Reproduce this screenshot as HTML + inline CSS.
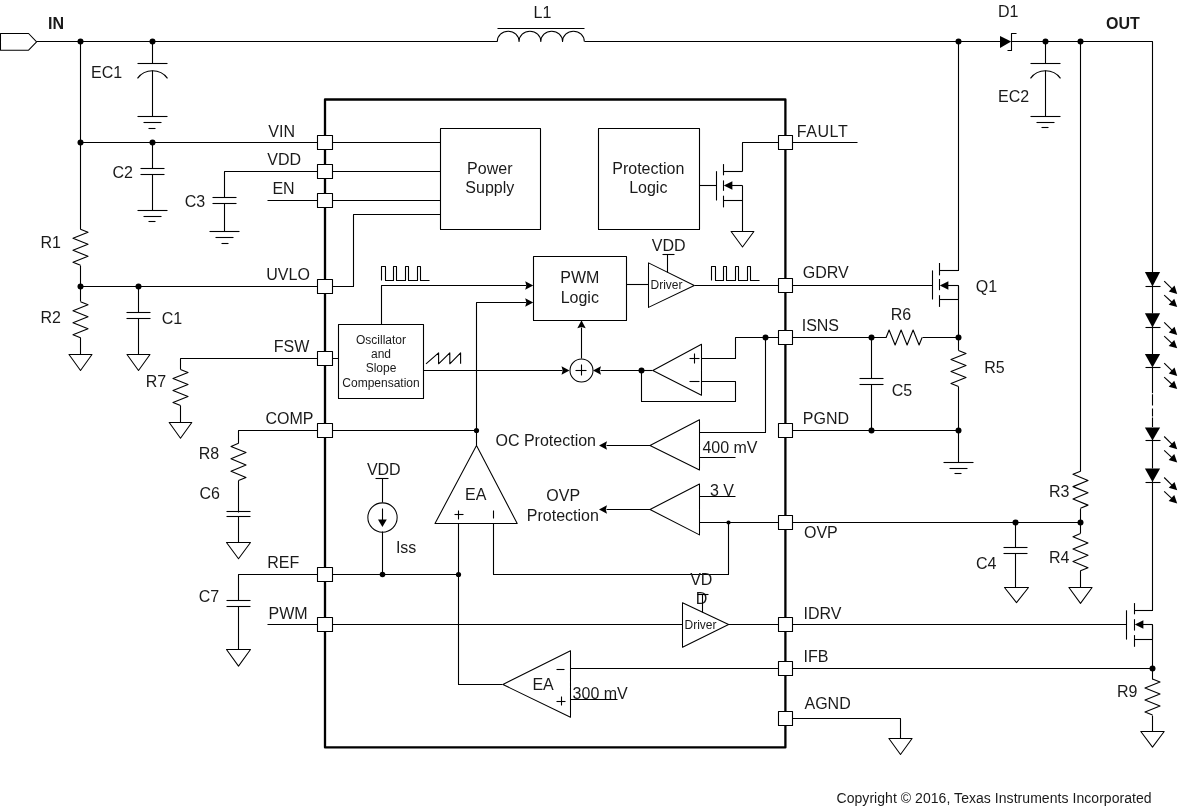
<!DOCTYPE html>
<html><head><meta charset="utf-8"><style>
html,body{margin:0;padding:0;background:#fff;}
svg{display:block;will-change:transform;}
text{font-family:"Liberation Sans",sans-serif;fill:#1a1a1a;stroke:none;}
</style></head><body>
<svg width="1179" height="808" viewBox="0 0 1179 808">
<g fill="none" stroke="#000" stroke-width="1.1" stroke-linejoin="round">
<polygon points="0.5,33.5 28.6,33.5 36.6,41.8 28.6,50.2 0.5,50.2" fill="none" stroke-width="1.05"/>
<text x="48" y="28.6" font-size="16" font-weight="bold">IN</text>
<path d="M36.50,41.50 L497.50,41.50"/>
<path d="M497.3,41.5 a10.875,10.3 0 0 1 21.75,0 a10.875,10.3 0 0 1 21.75,0 a10.875,10.3 0 0 1 21.75,0 a10.875,10.3 0 0 1 21.75,0"/>
<path d="M497.50,28.50 L584.50,28.50"/>
<text x="533.5" y="18.1" font-size="16">L1</text>
<path d="M584.50,41.50 L1000.50,41.50"/>
<polygon points="1000.00,36.10 1000.00,47.90 1011.20,41.50" fill="#000" stroke="none"/>
<path d="M1016.50,33.50 L1011.50,33.50 L1011.50,50.50 L1007.50,50.50"/>
<path d="M1011.50,41.50 L1152.50,41.50 L1152.50,272.50"/>
<text x="998" y="17" font-size="16">D1</text>
<circle cx="958.5" cy="41.5" r="3.0" fill="#000" stroke="none"/>
<circle cx="1045.5" cy="41.5" r="3.0" fill="#000" stroke="none"/>
<circle cx="1080.5" cy="41.5" r="3.0" fill="#000" stroke="none"/>
<path d="M1045.50,41.50 L1045.50,63.50"/>
<path d="M1030.50,63.50 L1060.50,63.50"/>
<path d="M1030.5,78.3 A18.75,18.75 0 0 1 1060.5,78.3"/>
<path d="M1045.50,70.50 L1045.50,116.50"/>
<path d="M1030.50,116.50 L1060.50,116.50"/>
<path d="M1036.50,122.50 L1054.50,122.50"/>
<path d="M1041.50,127.50 L1048.50,127.50"/>
<text x="998" y="102.3" font-size="16">EC2</text>
<text x="1106" y="28.5" font-size="16" font-weight="bold">OUT</text>
<circle cx="80.5" cy="41.5" r="3.0" fill="#000" stroke="none"/>
<circle cx="152.5" cy="41.5" r="3.0" fill="#000" stroke="none"/>
<path d="M80.50,41.50 L80.50,229.50"/>
<path d="M80.50,229.30 L88.00,232.30 L73.00,238.30 L88.00,244.30 L73.00,250.30 L88.00,256.30 L73.00,262.30 L80.50,265.30"/>
<path d="M80.50,265.50 L80.50,301.50"/>
<path d="M80.50,301.80 L88.00,304.80 L73.00,310.80 L88.00,316.80 L73.00,322.80 L88.00,328.80 L73.00,334.80 L80.50,337.80"/>
<path d="M80.50,337.50 L80.50,354.50"/>
<polygon points="69.00,354.50 92.00,354.50 80.50,370.50" fill="none" stroke-width="1.05"/>
<text x="91" y="78" font-size="16">EC1</text>
<path d="M152.50,41.50 L152.50,63.50"/>
<path d="M137.50,63.50 L167.50,63.50"/>
<path d="M137.5,78.3 A18.75,18.75 0 0 1 167.5,78.3"/>
<path d="M152.50,70.50 L152.50,116.50"/>
<path d="M137.50,116.50 L167.50,116.50"/>
<path d="M143.50,122.50 L161.50,122.50"/>
<path d="M148.50,128.50 L155.50,128.50"/>
<circle cx="80.5" cy="142.5" r="3.0" fill="#000" stroke="none"/>
<circle cx="152.5" cy="142.5" r="3.0" fill="#000" stroke="none"/>
<path d="M80.50,142.50 L440.50,142.50"/>
<path d="M152.50,142.50 L152.50,168.50"/>
<path d="M140.50,168.50 L164.50,168.50"/>
<path d="M140.50,174.50 L164.50,174.50"/>
<path d="M152.50,174.50 L152.50,210.50"/>
<path d="M137.50,210.50 L167.50,210.50"/>
<path d="M143.50,216.50 L161.50,216.50"/>
<path d="M148.50,221.50 L155.50,221.50"/>
<text x="112.5" y="178.4" font-size="16">C2</text>
<path d="M224.50,197.50 L224.50,171.50 L440.50,171.50"/>
<path d="M212.50,197.50 L236.50,197.50"/>
<path d="M212.50,203.50 L236.50,203.50"/>
<path d="M224.50,203.50 L224.50,231.50"/>
<path d="M209.50,231.50 L239.50,231.50"/>
<path d="M215.50,237.50 L233.50,237.50"/>
<path d="M221.50,243.50 L228.50,243.50"/>
<text x="184.8" y="206.9" font-size="16">C3</text>
<path d="M267.50,200.50 L440.50,200.50"/>
<circle cx="80.5" cy="286.5" r="3.0" fill="#000" stroke="none"/>
<circle cx="138.5" cy="286.5" r="3.0" fill="#000" stroke="none"/>
<path d="M80.50,286.50 L353.50,286.50 L353.50,214.50 L440.50,214.50"/>
<path d="M138.50,286.50 L138.50,312.50"/>
<path d="M126.50,312.50 L150.50,312.50"/>
<path d="M126.50,318.50 L150.50,318.50"/>
<path d="M138.50,318.50 L138.50,354.50"/>
<polygon points="127.00,354.50 150.00,354.50 138.50,370.50" fill="none" stroke-width="1.05"/>
<text x="40.5" y="248" font-size="16">R1</text>
<text x="40.5" y="322.7" font-size="16">R2</text>
<text x="161.8" y="324" font-size="16">C1</text>
<path d="M180.50,369.50 L180.50,358.50 L338.50,358.50"/>
<path d="M180.50,369.50 L188.00,372.50 L173.00,378.50 L188.00,384.50 L173.00,390.50 L188.00,396.50 L173.00,402.50 L180.50,405.50"/>
<path d="M180.50,405.50 L180.50,422.50"/>
<polygon points="169.20,422.50 191.80,422.50 180.50,438.20" fill="none" stroke-width="1.05"/>
<text x="145.8" y="387" font-size="16">R7</text>
<path d="M238.50,443.50 L238.50,430.50 L476.50,430.50"/>
<path d="M238.50,443.30 L231.00,446.40 L246.00,452.60 L231.00,458.80 L246.00,465.00 L231.00,471.20 L246.00,477.40 L238.50,480.50"/>
<path d="M238.50,480.50 L238.50,512.50"/>
<path d="M226.50,511.50 L250.50,511.50"/>
<path d="M226.50,516.50 L250.50,516.50"/>
<path d="M238.50,516.50 L238.50,542.50"/>
<polygon points="226.50,542.50 250.50,542.50 238.50,558.80" fill="none" stroke-width="1.05"/>
<text x="198.7" y="459" font-size="16">R8</text>
<text x="199.5" y="498.5" font-size="16">C6</text>
<path d="M238.50,600.50 L238.50,574.50 L458.50,574.50"/>
<path d="M226.50,600.50 L250.50,600.50"/>
<path d="M226.50,606.50 L250.50,606.50"/>
<path d="M238.50,606.50 L238.50,649.50"/>
<polygon points="226.50,649.50 250.50,649.50 238.50,666.10" fill="none" stroke-width="1.05"/>
<text x="198.7" y="602" font-size="16">C7</text>
<path d="M267.50,624.50 L682.50,624.50"/>
<rect x="325" y="99.5" width="460.4" height="647.9" stroke-width="2.3"/>
<rect x="440.5" y="128.5" width="100.0" height="101.0" fill="none"/>
<text x="489.8" y="174.1" font-size="16" text-anchor="middle">Power</text>
<text x="489.8" y="193.2" font-size="16" text-anchor="middle">Supply</text>
<rect x="598.5" y="128.5" width="101.0" height="101.0" fill="none"/>
<text x="648.3" y="174.1" font-size="16" text-anchor="middle">Protection</text>
<text x="648.3" y="193.2" font-size="16" text-anchor="middle">Logic</text>
<path d="M699.50,185.50 L716.50,185.50"/>
<path d="M716.5,171.2 L716.5,200.5"/>
<path d="M723.5,164.1 L723.5,175.3"/>
<path d="M723.5,180.4 L723.5,190.8"/>
<path d="M723.5,195.7 L723.5,207.4"/>
<path d="M723.50,171.50 L742.50,171.50"/>
<path d="M742.50,185.50 L731.50,185.50"/>
<polygon points="723.80,185.50 732.40,181.20 732.40,185.50 732.40,189.80" fill="#000" stroke="none"/>
<path d="M723.50,200.50 L742.50,200.50"/>
<path d="M742.50,185.50 L742.50,200.50"/>
<path d="M742.50,171.50 L742.50,142.50 L857.50,142.50"/>
<path d="M742.50,199.50 L742.50,231.50"/>
<polygon points="731.10,231.50 753.90,231.50 742.50,247.00" fill="none" stroke-width="1.05"/>
<rect x="533.5" y="256.5" width="93.0" height="64.0" fill="none"/>
<text x="579.8" y="283.3" font-size="16" text-anchor="middle">PWM</text>
<text x="579.8" y="303" font-size="16" text-anchor="middle">Logic</text>
<path d="M381.5,280.5 L381.5,266.5 L385.50,266.5 L385.50,280.5 L393.50,280.5 L393.50,266.5 L396.50,266.5 L396.50,280.5 L405.50,280.5 L405.50,266.5 L408.50,266.5 L408.50,280.5 L417.50,280.5 L417.50,266.5 L420.50,266.5 L420.50,280.5 L429.50,280.5"/>
<path d="M711.5,280.5 L711.5,266.5 L715.50,266.5 L715.50,280.5 L723.50,280.5 L723.50,266.5 L726.50,266.5 L726.50,280.5 L735.50,280.5 L735.50,266.5 L738.50,266.5 L738.50,280.5 L747.50,280.5 L747.50,266.5 L750.50,266.5 L750.50,280.5 L759.50,280.5"/>
<rect x="338.5" y="324.5" width="85.0" height="74.0" fill="none"/>
<text x="381" y="343.5" font-size="12" text-anchor="middle">Oscillator</text>
<text x="381" y="357.9" font-size="12" text-anchor="middle">and</text>
<text x="381" y="372.3" font-size="12" text-anchor="middle">Slope</text>
<text x="381" y="386.7" font-size="12" text-anchor="middle">Compensation</text>
<path d="M381.50,324.50 L381.50,285.50 L526.50,285.50"/>
<polygon points="533.20,285.50 525.20,281.30 526.40,285.50 525.20,289.70" fill="#000" stroke="none"/>
<path d="M476.50,445.50 L476.50,302.50 L526.50,302.50"/>
<polygon points="533.20,302.50 525.20,298.30 526.40,302.50 525.20,306.70" fill="#000" stroke="none"/>
<circle cx="476.5" cy="430.5" r="2.6" fill="#000" stroke="none"/>
<path d="M426,363.8 L438.6,352.8 L438.6,363.8 L449.8,352.8 L449.8,363.8 L460.6,352.8 L460.6,363.8"/>
<path d="M423.50,370.50 L562.50,370.50"/>
<polygon points="569.50,370.50 561.50,366.30 562.70,370.50 561.50,374.70" fill="#000" stroke="none"/>
<circle cx="581.5" cy="370.5" r="11.5" fill="none" stroke-width="1.05"/>
<path d="M575.50,370.50 L586.50,370.50"/>
<path d="M581.50,364.50 L581.50,375.50"/>
<path d="M581.50,358.50 L581.50,327.50"/>
<polygon points="581.50,320.30 577.30,328.30 581.50,327.10 585.70,328.30" fill="#000" stroke="none"/>
<path d="M641.50,370.50 L600.50,370.50"/>
<polygon points="593.00,370.50 601.00,366.30 599.80,370.50 601.00,374.70" fill="#000" stroke="none"/>
<circle cx="641.5" cy="370.5" r="3.0" fill="#000" stroke="none"/>
<polygon points="648.5,262.9 648.5,307.4 694.3,285.5" fill="none" stroke-width="1.05"/>
<path d="M626.50,284.50 L648.50,284.50"/>
<text x="666.5" y="288.8" font-size="12" text-anchor="middle">Driver</text>
<text x="651.8" y="251" font-size="16">VDD</text>
<path d="M662.50,254.50 L674.50,254.50"/>
<path d="M667.50,254.50 L667.50,272.50"/>
<path d="M694.50,285.50 L932.50,285.50"/>
<polygon points="701.5,344.3 701.5,395.2 652.8,370.5" fill="none" stroke-width="1.05"/>
<path d="M652.50,370.50 L641.50,370.50"/>
<path d="M641.50,370.50 L641.50,401.50 L735.50,401.50 L735.50,381.50 L701.50,381.50"/>
<path d="M701.50,358.50 L735.50,358.50 L735.50,337.50 L886.50,337.50"/>
<path d="M689.50,358.50 L699.50,358.50"/>
<path d="M694.50,353.50 L694.50,363.50"/>
<path d="M689.50,381.50 L699.50,381.50"/>
<circle cx="765.5" cy="337.5" r="3.0" fill="#000" stroke="none"/>
<path d="M765.50,337.50 L765.50,432.50 L699.50,432.50"/>
<polygon points="699.5,419.8 699.5,470 650,445.5" fill="none" stroke-width="1.05"/>
<path d="M699.50,457.50 L735.50,457.50"/>
<text x="702.4" y="453" font-size="16">400 mV</text>
<path d="M650.50,445.50 L606.50,445.50"/>
<polygon points="599.00,445.50 607.00,441.30 605.80,445.50 607.00,449.70" fill="#000" stroke="none"/>
<text x="495.5" y="446.3" font-size="16">OC Protection</text>
<polygon points="699.5,484 699.5,534.9 650,509.5" fill="none" stroke-width="1.05"/>
<path d="M699.50,496.50 L735.50,496.50"/>
<text x="710" y="496.2" font-size="16">3 V</text>
<path d="M699.50,522.50 L1080.50,522.50"/>
<circle cx="728.5" cy="522.5" r="2.1" fill="#000" stroke="none"/>
<path d="M650.50,509.50 L606.50,509.50"/>
<polygon points="599.00,509.50 607.00,505.30 605.80,509.50 607.00,513.70" fill="#000" stroke="none"/>
<text x="563.2" y="501.3" font-size="16" text-anchor="middle">OVP</text>
<text x="526.8" y="520.9" font-size="16">Protection</text>
<polygon points="476.5,445.4 517.2,523.5 435,523.5" fill="none" stroke-width="1.05"/>
<text x="475.7" y="500.2" font-size="16" text-anchor="middle">EA</text>
<path d="M454.50,514.50 L463.50,514.50"/>
<path d="M458.50,510.50 L458.50,519.50"/>
<path d="M493.50,510.50 L493.50,518.50"/>
<path d="M458.50,523.50 L458.50,684.50 L502.50,684.50"/>
<path d="M493.50,523.50 L493.50,574.50 L728.50,574.50 L728.50,522.50"/>
<circle cx="382.5" cy="574.5" r="2.8" fill="#000" stroke="none"/>
<circle cx="458.5" cy="574.5" r="2.6" fill="#000" stroke="none"/>
<text x="366.9" y="475.1" font-size="16">VDD</text>
<path d="M375.50,478.50 L388.50,478.50"/>
<path d="M382.50,478.50 L382.50,502.50"/>
<circle cx="382.5" cy="517.5" r="14.65" fill="none" stroke-width="1.05"/>
<path d="M382.50,508.50 L382.50,521.50"/>
<polygon points="382.40,527.00 378.00,519.40 386.80,519.40" fill="#000" stroke="none"/>
<path d="M382.50,531.50 L382.50,574.50"/>
<text x="395.9" y="552.7" font-size="16">Iss</text>
<polygon points="682.5,602.7 682.5,647.3 728.6,624.5" fill="none" stroke-width="1.05"/>
<text x="700.5" y="629.2" font-size="12" text-anchor="middle">Driver</text>
<text x="690.2" y="585.2" font-size="16">VD</text>
<text x="695.8" y="603.8" font-size="16">D</text>
<path d="M697.50,594.50 L708.50,594.50"/>
<path d="M702.50,594.50 L702.50,612.50"/>
<path d="M728.50,624.50 L1126.50,624.50"/>
<polygon points="570.5,650.8 570.5,717.3 502.9,684.5" fill="none" stroke-width="1.05"/>
<text x="532.4" y="689.8" font-size="16">EA</text>
<path d="M556.50,669.50 L564.50,669.50"/>
<path d="M556.50,701.50 L565.50,701.50"/>
<path d="M561.50,696.50 L561.50,705.50"/>
<path d="M570.50,668.50 L1152.50,668.50"/>
<path d="M570.50,699.50 L617.50,699.50"/>
<text x="572.6" y="698.7" font-size="16">300 mV</text>
<path d="M786.50,718.50 L900.50,718.50 L900.50,738.50"/>
<polygon points="888.90,738.50 912.10,738.50 900.50,754.50" fill="none" stroke-width="1.05"/>
<path d="M958.50,41.50 L958.50,270.50 L939.50,270.50"/>
<path d="M932.5,270.4 L932.5,299.5"/>
<path d="M939.5,263 L939.5,275.4"/>
<path d="M939.5,279 L939.5,290.2"/>
<path d="M939.5,295.2 L939.5,306.9"/>
<path d="M939.50,270.50 L958.50,270.50"/>
<path d="M958.50,285.50 L947.50,285.50"/>
<polygon points="939.80,285.50 948.40,281.20 948.40,285.50 948.40,289.80" fill="#000" stroke="none"/>
<path d="M939.50,299.50 L958.50,299.50"/>
<path d="M958.50,285.50 L958.50,299.50"/>
<path d="M958.50,285.50 L958.50,350.50"/>
<path d="M958.50,350.50 L966.00,353.50 L951.00,359.50 L966.00,365.50 L951.00,371.50 L966.00,377.50 L951.00,383.50 L958.50,386.50"/>
<path d="M958.50,386.50 L958.50,462.50"/>
<path d="M943.50,462.50 L973.50,462.50"/>
<path d="M949.50,468.50 L967.50,468.50"/>
<path d="M954.50,473.50 L961.50,473.50"/>
<circle cx="871.5" cy="337.5" r="3.0" fill="#000" stroke="none"/>
<circle cx="958.5" cy="337.5" r="3.0" fill="#000" stroke="none"/>
<path d="M886.10,337.50 L889.10,330.00 L895.10,345.00 L901.10,330.00 L907.10,345.00 L913.10,330.00 L919.10,345.00 L922.10,337.50"/>
<path d="M922.50,337.50 L958.50,337.50"/>
<path d="M871.50,337.50 L871.50,378.50"/>
<path d="M859.50,378.50 L883.50,378.50"/>
<path d="M859.50,384.50 L883.50,384.50"/>
<path d="M871.50,384.50 L871.50,430.50"/>
<path d="M786.50,430.50 L958.50,430.50"/>
<circle cx="871.5" cy="430.5" r="3.0" fill="#000" stroke="none"/>
<circle cx="958.5" cy="430.5" r="3.0" fill="#000" stroke="none"/>
<text x="802.8" y="277.5" font-size="16">GDRV</text>
<text x="975.8" y="291.5" font-size="16">Q1</text>
<text x="890.7" y="320" font-size="16">R6</text>
<text x="801.7" y="331.4" font-size="16">ISNS</text>
<text x="891.8" y="395.5" font-size="16">C5</text>
<text x="984.2" y="373.4" font-size="16">R5</text>
<text x="802.8" y="424" font-size="16">PGND</text>
<text x="796.7" y="136.9" font-size="16" letter-spacing="0.6">FAULT</text>
<text x="804" y="538.2" font-size="16">OVP</text>
<text x="803.5" y="618.8" font-size="16">IDRV</text>
<text x="803.5" y="662.1" font-size="16">IFB</text>
<text x="804.5" y="709.3" font-size="16">AGND</text>
<text x="268.3" y="136.5" font-size="16">VIN</text>
<text x="267.3" y="165.2" font-size="16">VDD</text>
<text x="272.4" y="194" font-size="16">EN</text>
<text x="266.3" y="280.2" font-size="16">UVLO</text>
<text x="273.7" y="352" font-size="16">FSW</text>
<text x="265.5" y="424" font-size="16">COMP</text>
<text x="267.3" y="568" font-size="16">REF</text>
<text x="268.6" y="619" font-size="16">PWM</text>
<circle cx="1015.5" cy="522.5" r="3.0" fill="#000" stroke="none"/>
<circle cx="1080.5" cy="522.5" r="3.0" fill="#000" stroke="none"/>
<path d="M1015.50,522.50 L1015.50,547.50"/>
<path d="M1003.50,547.50 L1027.50,547.50"/>
<path d="M1003.50,553.50 L1027.50,553.50"/>
<path d="M1015.50,553.50 L1015.50,587.50"/>
<polygon points="1004.50,587.50 1028.50,587.50 1016.50,602.70" fill="none" stroke-width="1.05"/>
<text x="976" y="568.7" font-size="16">C4</text>
<path d="M1080.50,41.50 L1080.50,471.50"/>
<path d="M1080.50,471.20 L1073.00,474.28 L1088.00,480.45 L1073.00,486.62 L1088.00,492.78 L1073.00,498.95 L1088.00,505.12 L1080.50,508.20"/>
<path d="M1080.50,508.50 L1080.50,533.50"/>
<path d="M1080.50,533.60 L1073.00,536.70 L1088.00,542.90 L1073.00,549.10 L1088.00,555.30 L1073.00,561.50 L1088.00,567.70 L1080.50,570.80"/>
<path d="M1080.50,570.50 L1080.50,587.50"/>
<polygon points="1068.90,587.50 1092.10,587.50 1080.50,603.40" fill="none" stroke-width="1.05"/>
<text x="1048.9" y="496.6" font-size="16">R3</text>
<text x="1048.9" y="563.4" font-size="16">R4</text>
<polygon points="1144.90,272.10 1160.10,272.10 1152.50,286.40" fill="#000" stroke="none"/>
<path d="M1145.50,286.50 L1160.50,286.50"/>
<path d="M1164.20,281.20 L1172.35,289.23"/>
<polygon points="1177.20,294.00 1168.77,291.45 1174.52,285.61" fill="#000" stroke="none"/>
<path d="M1164.20,295.10 L1172.20,302.49"/>
<polygon points="1177.20,307.10 1168.69,304.82 1174.25,298.80" fill="#000" stroke="none"/>
<polygon points="1144.90,313.20 1160.10,313.20 1152.50,327.40" fill="#000" stroke="none"/>
<path d="M1145.50,327.50 L1160.50,327.50"/>
<path d="M1164.20,322.30 L1172.35,330.33"/>
<polygon points="1177.20,335.10 1168.77,332.55 1174.52,326.71" fill="#000" stroke="none"/>
<path d="M1164.20,336.20 L1172.20,343.59"/>
<polygon points="1177.20,348.20 1168.69,345.92 1174.25,339.90" fill="#000" stroke="none"/>
<polygon points="1144.90,354.10 1160.10,354.10 1152.50,367.40" fill="#000" stroke="none"/>
<path d="M1145.50,367.50 L1160.50,367.50"/>
<path d="M1164.20,363.20 L1172.35,371.23"/>
<polygon points="1177.20,376.00 1168.77,373.45 1174.52,367.61" fill="#000" stroke="none"/>
<path d="M1164.20,377.10 L1172.20,384.49"/>
<polygon points="1177.20,389.10 1168.69,386.82 1174.25,380.80" fill="#000" stroke="none"/>
<polygon points="1144.90,427.40 1160.10,427.40 1152.50,440.50" fill="#000" stroke="none"/>
<path d="M1145.50,440.50 L1160.50,440.50"/>
<path d="M1164.20,436.50 L1172.35,444.53"/>
<polygon points="1177.20,449.30 1168.77,446.75 1174.52,440.91" fill="#000" stroke="none"/>
<path d="M1164.20,450.40 L1172.20,457.79"/>
<polygon points="1177.20,462.40 1168.69,460.12 1174.25,454.10" fill="#000" stroke="none"/>
<polygon points="1144.90,468.40 1160.10,468.40 1152.50,482.10" fill="#000" stroke="none"/>
<path d="M1145.50,482.50 L1160.50,482.50"/>
<path d="M1164.20,477.50 L1172.35,485.53"/>
<polygon points="1177.20,490.30 1168.77,487.75 1174.52,481.91" fill="#000" stroke="none"/>
<path d="M1164.20,491.40 L1172.20,498.79"/>
<polygon points="1177.20,503.40 1168.69,501.12 1174.25,495.10" fill="#000" stroke="none"/>
<path d="M1152.5,367 L1152.5,393.2 M1152.5,394.2 L1152.5,405.5 M1152.5,408.5 L1152.5,416.4 M1152.5,417.5 L1152.5,427.1"/>
<path d="M1152.50,282.50 L1152.50,313.50"/>
<path d="M1152.50,323.50 L1152.50,354.50"/>
<path d="M1152.50,436.50 L1152.50,468.50"/>
<path d="M1152.50,478.50 L1152.50,610.50 L1134.50,610.50"/>
<path d="M1126.5,610.3 L1126.5,639.6"/>
<path d="M1134.5,603.1 L1134.5,614.3"/>
<path d="M1134.5,619.2 L1134.5,630.6"/>
<path d="M1134.5,635.1 L1134.5,646.8"/>
<path d="M1134.50,610.50 L1152.50,610.50"/>
<path d="M1152.50,624.50 L1142.50,624.50"/>
<polygon points="1134.80,624.50 1143.40,620.20 1143.40,624.50 1143.40,628.80" fill="#000" stroke="none"/>
<path d="M1134.50,639.50 L1152.50,639.50"/>
<path d="M1152.50,624.50 L1152.50,639.50"/>
<path d="M1152.50,624.50 L1152.50,679.50"/>
<path d="M1152.50,679.00 L1160.00,682.00 L1145.00,688.00 L1160.00,694.00 L1145.00,700.00 L1160.00,706.00 L1145.00,712.00 L1152.50,715.00"/>
<path d="M1152.50,715.50 L1152.50,731.50"/>
<polygon points="1140.80,731.50 1164.20,731.50 1152.50,747.10" fill="none" stroke-width="1.05"/>
<circle cx="1152.5" cy="668.5" r="3.0" fill="#000" stroke="none"/>
<text x="1116.9" y="696.8" font-size="16">R9</text>
<rect x="317.5" y="135.5" width="15" height="14" fill="#fff"/>
<rect x="317.5" y="164.5" width="15" height="14" fill="#fff"/>
<rect x="317.5" y="193.5" width="15" height="14" fill="#fff"/>
<rect x="317.5" y="279.5" width="15" height="14" fill="#fff"/>
<rect x="317.5" y="351.5" width="15" height="14" fill="#fff"/>
<rect x="317.5" y="423.5" width="15" height="14" fill="#fff"/>
<rect x="317.5" y="567.5" width="15" height="14" fill="#fff"/>
<rect x="317.5" y="617.5" width="15" height="14" fill="#fff"/>
<rect x="778.5" y="135.5" width="14" height="14" fill="#fff"/>
<rect x="778.5" y="278.5" width="14" height="14" fill="#fff"/>
<rect x="778.5" y="330.5" width="14" height="14" fill="#fff"/>
<rect x="778.5" y="423.5" width="14" height="14" fill="#fff"/>
<rect x="778.5" y="515.5" width="14" height="14" fill="#fff"/>
<rect x="778.5" y="617.5" width="14" height="14" fill="#fff"/>
<rect x="778.5" y="661.5" width="14" height="14" fill="#fff"/>
<rect x="778.5" y="711.5" width="14" height="14" fill="#fff"/>
<text x="836.5" y="802.5" font-size="14" letter-spacing="0.05">Copyright © 2016, Texas Instruments Incorporated</text>
</g>
</svg>
</body></html>
